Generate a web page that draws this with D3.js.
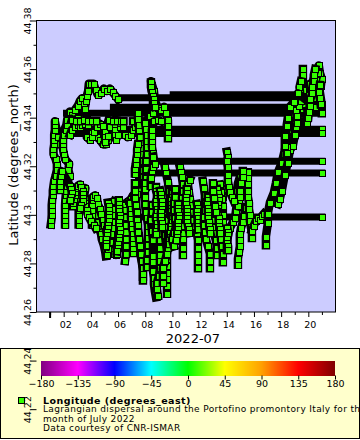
<!DOCTYPE html>
<html><head><meta charset="utf-8">
<script src="https://cdnjs.cloudflare.com/ajax/libs/d3/7.8.5/d3.min.js"></script>
<style>html,body{margin:0;padding:0;background:#fff;overflow:hidden}svg{display:block}text{font-family:"DejaVu Sans",sans-serif;fill:#000}</style>
</head><body><svg id="c" width="360" height="440"></svg>
<script>
const xMajor=[2,4,6,8,10,12,14,16,18,20];
const xMinor=[1,3,5,7,9,11,13,15,17,19,21];
const yMajor=[44.26,44.28,44.3,44.32,44.34,44.36,44.38];
const yMinor=[44.27,44.29,44.31,44.33,44.35,44.37];
const yBelow=[44.22,44.24];
const cbValues=[-180,-135,-90,-45,0,45,90,135,180];
const cbColors=["#800080","#ff00ff","#0000ff","#00ffff","#00ff00","#ffff00","#ffa000","#ff0000","#800000"];
const markerLon=9.2;
const legendLines=["Lagrangian dispersal around the Portofino promontory Italy for the","month of July 2022","Data courtesy of CNR-ISMAR"];
// stationary end sections of the tracks: latitude, first day, last day
const tailLat=[44.3494,44.3482,44.3443,44.3418,44.3352,44.3335,44.3221,44.3172,44.2991];
const tailStart=[9.8,6.0,5.4,1.95,3.0,2.5,8.8,8.4,7.0];
const tailEnd=[19.0,19.0,20.8,21,21,21,21,21,21];

const track01=[[1.05,44.296],[1.1,44.298],[1.12,44.3],[1.12,44.302],[1.12,44.304],[1.15,44.306],[1.2,44.308],[1.2,44.31],[1.25,44.312],[1.3,44.314],[1.4,44.316],[1.5,44.3185],[1.5,44.321],[1.4,44.323],[1.25,44.325],[1.25,44.327],[1.3,44.329],[1.3,44.331],[1.3,44.333],[1.35,44.335],[1.35,44.337],[1.35,44.3385],[1.6,44.332],[1.7,44.329],[1.85,44.331],[2.0,44.3345],[2.2,44.337],[2.3,44.34],[2.45,44.3425],[2.6,44.341],[2.8,44.343],[3.05,44.345],[3.2,44.347],[3.35,44.348],[3.5,44.3455],[3.55,44.3435],[3.65,44.347],[3.7,44.349],[3.8,44.351],[3.85,44.354],[4.0,44.354],[4.2,44.354],[4.35,44.3515],[4.5,44.3495],[4.75,44.35],[4.95,44.352],[5.2,44.351],[5.4,44.352],[5.6,44.3505],[5.8,44.349],[6.0,44.3475]];
const track02=[[2.1,44.296],[2.1,44.298],[2.1,44.3],[2.1,44.302],[2.1,44.304],[2.12,44.306],[2.15,44.308],[2.2,44.31],[2.25,44.312],[2.3,44.314],[2.45,44.316],[2.35,44.3185],[2.4,44.321],[2.1,44.323],[2.02,44.325],[1.95,44.327],[1.95,44.329],[1.95,44.331],[2.02,44.333],[2.17,44.335],[2.25,44.337],[2.25,44.339],[2.55,44.3395],[2.85,44.338],[3.05,44.34],[3.25,44.339],[3.5,44.34],[3.7,44.3395],[3.7,44.338],[3.7,44.336],[3.85,44.3335],[4.0,44.335],[4.15,44.334],[4.3,44.3325],[4.45,44.332],[4.65,44.331],[4.9,44.329],[5.1,44.329],[5.25,44.331],[5.4,44.3325],[5.65,44.335],[5.8,44.337],[5.85,44.339]];
const track03=[[2.46,44.333],[2.6,44.335],[2.85,44.336],[3.05,44.337],[3.2,44.336],[3.35,44.337],[3.55,44.3375],[3.8,44.337],[3.7,44.332],[3.9,44.331],[4.05,44.3335],[4.05,44.332],[4.2,44.334],[4.45,44.336],[4.65,44.3375],[4.9,44.3365],[5.05,44.334],[5.05,44.332],[5.05,44.33],[5.25,44.3325],[5.4,44.336],[5.55,44.3385],[5.8,44.339],[5.8,44.337],[5.8,44.335],[5.8,44.333],[5.85,44.331],[6.0,44.333],[6.15,44.336],[6.15,44.338],[6.35,44.336],[6.5,44.333],[6.7,44.332],[6.95,44.333],[7.1,44.335],[7.25,44.336],[7.4,44.338],[7.5,44.34],[7.5,44.342]];
const track04=[[3.1,44.296],[3.1,44.298],[3.1,44.3],[3.1,44.302],[3.12,44.304],[3.15,44.306],[3.2,44.308],[3.3,44.3095],[3.4,44.3105],[3.6,44.311],[3.5,44.3075],[3.65,44.3055],[3.8,44.3035],[3.95,44.3015],[4.3,44.3],[4.45,44.297],[4.6,44.2945],[4.75,44.292],[4.8,44.29],[4.95,44.2875],[5.05,44.285],[5.1,44.283]];
const track05=[[4.08,44.296],[4.08,44.298],[4.08,44.3],[4.08,44.302],[4.08,44.304],[4.15,44.306],[4.15,44.3075],[4.3,44.308],[4.45,44.3068],[4.5,44.3045],[4.67,44.3025],[4.75,44.3005],[4.9,44.298],[4.95,44.296],[5.1,44.294],[5.2,44.2915],[5.25,44.2895],[5.4,44.2875],[5.55,44.2855],[5.7,44.284],[5.85,44.2835],[5.92,44.286],[5.99,44.289],[5.99,44.292],[5.92,44.295],[5.85,44.298],[5.7,44.301],[5.55,44.304],[5.7,44.3055]];
const track06=[[5.55,44.3025],[5.55,44.3],[5.55,44.297],[5.55,44.2945],[5.5,44.292],[5.4,44.289],[5.26,44.286],[5.18,44.2835]];
const track07=[[5.9,44.284],[5.9,44.287],[5.99,44.29],[6.14,44.293],[6.2,44.296],[6.28,44.299],[6.28,44.302],[6.35,44.304],[6.73,44.3055],[6.95,44.3065],[7.1,44.308],[6.51,44.302],[6.51,44.299],[6.58,44.296],[6.58,44.293],[6.58,44.29],[6.58,44.287],[6.58,44.284],[6.51,44.281]];
const track08=[[7.83,44.2745],[7.83,44.277],[7.76,44.28],[7.68,44.2825],[7.68,44.2855],[7.61,44.2885],[7.54,44.2915],[7.46,44.2945],[7.46,44.2975],[7.39,44.3],[7.32,44.3025],[7.32,44.3055],[7.39,44.3085],[7.46,44.311],[7.54,44.314],[7.61,44.317],[7.68,44.32],[7.76,44.3225],[7.83,44.3255]];
const track09=[[7.83,44.3125],[7.83,44.3155],[7.83,44.3185],[7.83,44.322],[7.83,44.325],[7.68,44.3275],[7.61,44.33],[7.61,44.332],[7.54,44.335],[7.54,44.337],[7.46,44.3395],[7.46,44.342]];
const track10=[[8.05,44.3115],[8.05,44.315],[8.05,44.319],[8.05,44.322],[8.13,44.325],[8.13,44.328],[8.13,44.3305],[8.13,44.333],[8.05,44.3355],[7.98,44.338],[8.35,44.3405],[8.57,44.342],[8.57,44.345],[8.57,44.348],[8.49,44.351],[8.49,44.3535],[8.42,44.355],[8.64,44.351],[8.71,44.347],[8.93,44.344],[9.15,44.343],[9.38,44.3445],[9.52,44.342],[9.67,44.339],[9.67,44.3365],[9.67,44.3335],[9.67,44.3315]];
const track11=[[8.57,44.3205],[8.57,44.3225],[8.57,44.3255],[8.49,44.328],[8.49,44.3305],[8.49,44.3325],[8.49,44.335],[8.64,44.3385],[8.93,44.339],[9.15,44.3385]];
const track12=[[7.24,44.313],[7.24,44.31],[7.24,44.307],[7.32,44.304],[7.39,44.301],[7.39,44.298],[7.46,44.296],[7.46,44.293],[7.54,44.29],[7.61,44.287],[7.68,44.284],[7.76,44.281],[7.83,44.278],[7.83,44.2755],[7.83,44.273]];
const track13=[[8.13,44.2785],[8.13,44.2815],[8.2,44.2845],[8.2,44.2875],[8.2,44.2905],[8.2,44.293],[8.2,44.2955],[8.13,44.2985],[8.05,44.301],[7.98,44.3045],[7.98,44.3075],[7.98,44.3105],[7.98,44.313]];
const track14=[[8.49,44.304],[8.49,44.301],[8.42,44.298],[8.49,44.2935],[8.57,44.2895],[8.57,44.283],[8.57,44.2805],[8.57,44.277],[8.64,44.274],[8.64,44.2715],[8.71,44.2685],[8.79,44.266]];
const track15=[[8.93,44.2665],[8.86,44.2695],[8.86,44.272],[9.01,44.275],[9.08,44.278],[9.08,44.281],[9.08,44.2835],[9.08,44.2865],[9.08,44.2895],[9.15,44.2925]];
const track16=[[9.38,44.3045],[9.38,44.3015],[9.38,44.298],[9.38,44.295],[9.45,44.2915],[9.52,44.2885],[9.6,44.285],[9.6,44.282],[9.6,44.279],[9.6,44.276],[9.6,44.2735],[9.6,44.2705],[9.6,44.2675]];
const track17=[[9.3,44.272],[9.3,44.275],[9.3,44.278],[9.45,44.281],[9.6,44.284],[9.67,44.2865],[9.67,44.2895],[9.67,44.292],[9.67,44.295],[9.67,44.298],[9.82,44.3],[9.82,44.306],[9.74,44.31],[9.67,44.3135],[9.52,44.3175],[9.45,44.3195]];
const track18=[[10.18,44.3105],[10.18,44.3075],[10.11,44.305],[10.11,44.302],[10.18,44.2985],[10.26,44.295],[10.11,44.2925],[9.96,44.29],[10.11,44.287]];
const track19=[[10.55,44.3195],[10.63,44.3175],[10.7,44.3155],[10.77,44.3125],[10.77,44.31],[10.7,44.307],[10.77,44.304],[10.77,44.301],[10.77,44.2985],[10.77,44.2955],[10.77,44.2925],[10.77,44.29],[10.77,44.2865],[10.77,44.2835]];
const track20=[[11.88,44.278],[11.88,44.281],[11.88,44.2835],[11.88,44.2865],[11.88,44.2895],[11.8,44.2925],[11.65,44.2955],[11.51,44.298],[11.43,44.301],[11.36,44.304],[11.29,44.3065],[11.21,44.3095],[11.14,44.3125],[11.29,44.3145]];
const track21=[[12.24,44.314],[12.32,44.311],[12.39,44.308],[12.39,44.305],[12.39,44.302],[12.32,44.299],[12.32,44.296],[12.39,44.293],[12.46,44.29],[12.61,44.287],[12.76,44.284],[12.76,44.281],[12.76,44.278]];
const track22=[[13.27,44.2835],[13.27,44.2865],[13.2,44.2895],[13.05,44.2925],[12.9,44.295],[12.9,44.298],[12.98,44.301],[13.2,44.3035],[13.49,44.3055],[13.71,44.3075],[13.86,44.3105]];
const track23=[[13.49,44.3125],[13.57,44.3095],[13.64,44.3065],[13.71,44.3035],[13.71,44.3],[13.71,44.297],[13.64,44.2935],[13.57,44.29],[13.64,44.287],[13.71,44.284],[13.71,44.2805]];
const track24=[[14.01,44.2855],[14.01,44.2885],[14.08,44.2915],[14.23,44.2945],[14.45,44.297],[14.6,44.2985],[14.67,44.3015],[14.74,44.3045],[14.74,44.307],[14.74,44.31],[14.82,44.313],[14.96,44.3155],[15.18,44.317]];
const track25=[[14.82,44.2795],[14.82,44.282],[14.89,44.2845],[14.96,44.287],[14.96,44.2895],[14.96,44.292],[15.04,44.2945],[15.18,44.297],[15.26,44.2995],[15.4,44.303]];
const track26=[[15.55,44.3175],[15.55,44.315],[15.55,44.3125],[15.55,44.31],[15.55,44.3075],[15.63,44.305],[15.63,44.3025],[15.7,44.3],[15.7,44.2975],[15.77,44.295],[15.85,44.2925],[15.85,44.2905]];
const track27=[[14.96,44.313],[14.96,44.31],[14.96,44.3075],[14.89,44.305],[14.82,44.3035]];
const track28=[[15.85,44.2935],[15.99,44.2955],[16.14,44.2975],[16.29,44.2985],[16.43,44.298],[16.58,44.2995],[16.73,44.3005]];
const track29=[[14.01,44.326],[14.08,44.324],[14.01,44.322],[14.08,44.3195],[14.08,44.3165],[14.08,44.314],[14.16,44.3115],[14.23,44.3095],[14.38,44.3075],[14.53,44.3055]];
const track30=[[15.18,44.318],[15.18,44.3155],[15.04,44.313]];
const track31=[[12.98,44.313],[12.98,44.31],[13.05,44.307],[13.12,44.3035],[13.2,44.301]];
const track32=[[16.88,44.2875],[16.88,44.291],[17.02,44.2965],[17.02,44.3005],[17.17,44.305],[17.46,44.309],[17.61,44.313],[17.76,44.3175],[18.05,44.3215],[18.2,44.325],[18.35,44.3285],[18.49,44.3315],[18.64,44.335],[18.79,44.339],[18.94,44.342],[19.16,44.345],[19.23,44.3485],[19.45,44.351],[19.6,44.354],[19.6,44.3575],[19.6,44.36]];
const track33=[[17.76,44.3045],[17.9,44.3065],[18.05,44.31],[18.27,44.3165],[18.49,44.3215],[18.64,44.3265],[18.86,44.3285],[19.01,44.333],[19.08,44.336],[19.38,44.3395],[19.6,44.3435],[19.74,44.3465],[19.96,44.3495],[20.26,44.3535],[20.48,44.3575],[20.77,44.3615],[20.85,44.3585],[20.99,44.356],[20.92,44.353],[20.55,44.3485],[20.85,44.3505],[20.99,44.3455],[20.99,44.3418]];
const track34=[[19.01,44.333],[19.08,44.336],[19.01,44.339],[19.89,44.338],[19.89,44.3405],[19.96,44.3435],[19.6,44.3455],[19.6,44.3485],[19.6,44.3515],[20.11,44.354],[20.4,44.3535],[20.55,44.3555],[20.7,44.3585]];
const track35=[[18.27,44.3285],[18.27,44.3325],[18.4,44.3365],[18.49,44.34],[18.64,44.3445],[18.94,44.3465],[19.23,44.35],[20.48,44.3445],[20.48,44.348],[20.55,44.351]];
const track36=[[5.26,44.305],[5.3,44.3035],[5.33,44.302],[5.33,44.3005],[5.3,44.299],[5.3,44.2975],[5.26,44.296],[5.26,44.2945],[5.2,44.293],[5.2,44.2915],[5.15,44.29],[5.15,44.2885],[5.11,44.287]];
const track37=[[6.05,44.306],[6.05,44.3045],[6.1,44.303],[6.1,44.3015],[6.14,44.3],[6.14,44.2985],[6.1,44.297],[6.1,44.2955],[6.14,44.294],[6.14,44.2925],[6.05,44.291],[6.05,44.2895],[6.0,44.288],[6.0,44.2865],[5.95,44.285]];
const track38=[[7.1,44.2843],[7.1,44.2864],[7.1,44.2884],[7.1,44.2905],[7.1,44.2925],[7.02,44.2946],[7.02,44.2967],[6.95,44.2987],[6.95,44.3008],[6.95,44.3028],[6.88,44.3049]];
const track39=[[3.55,44.3065],[3.55,44.305],[3.6,44.3035],[3.7,44.302],[3.75,44.3005],[3.85,44.299],[4.0,44.2975],[4.2,44.296],[4.35,44.2945]];
const track40=[[2.7,44.3035],[2.7,44.305],[2.75,44.3065],[2.8,44.308],[2.85,44.3095],[2.95,44.311],[3.05,44.312],[3.2,44.3125],[3.3,44.3115],[3.4,44.31],[3.45,44.3085],[3.45,44.307],[3.4,44.3055],[3.3,44.304],[3.2,44.303]];
const track41=[[1.73,44.3102],[1.73,44.312],[1.75,44.314],[1.8,44.316],[1.85,44.318],[2.46,44.312],[2.55,44.3105],[2.6,44.309],[2.55,44.3075],[2.5,44.306]];
const track42=[[2.6,44.339],[2.9,44.3385],[3.2,44.3385],[3.5,44.339],[3.8,44.3385],[4.1,44.3385],[4.4,44.3385]];
const track43=[[5.3,44.339],[5.6,44.3385],[5.9,44.3385],[6.2,44.3385],[6.4,44.3385]];
const track44=[[7.1,44.3385],[7.4,44.3385],[7.7,44.3385]];
const track45=[[8.42,44.3545],[8.42,44.3525],[8.49,44.3505],[8.57,44.349],[8.64,44.3475],[8.64,44.346],[8.71,44.3445]];
const track46=[[7.24,44.317],[7.24,44.319],[7.3,44.321],[7.35,44.323],[7.4,44.325],[7.4,44.327],[7.45,44.329]];
const track47=[[8.4,44.312],[8.4,44.315],[8.5,44.318],[8.6,44.3195],[8.7,44.321],[8.6,44.324]];
const track48=[[8.79,44.3115],[8.79,44.31],[8.86,44.3085],[8.86,44.307],[8.79,44.3055],[8.79,44.304],[8.86,44.3025],[8.86,44.301],[8.79,44.2995],[8.79,44.298],[8.86,44.2965],[8.86,44.295],[8.79,44.2935],[8.79,44.292]];
const track49=[[9.1,44.31],[9.15,44.3085],[9.15,44.307],[9.2,44.3055],[9.2,44.304],[9.2,44.3025],[9.15,44.301],[9.15,44.2995],[9.15,44.298],[9.2,44.2965],[9.2,44.295]];
const track50=[[9.96,44.309],[9.96,44.3075],[9.9,44.306],[9.9,44.3045],[9.9,44.303],[9.9,44.3015],[9.96,44.3],[9.96,44.2985],[9.96,44.297],[9.9,44.2955],[9.9,44.294],[9.8,44.2925],[9.8,44.291],[9.75,44.2895],[9.75,44.288]];
const track51=[[10.4,44.3045],[10.4,44.303],[10.4,44.3015],[10.45,44.3],[10.45,44.2985],[10.4,44.297],[10.4,44.2955],[10.4,44.294],[10.35,44.2925],[10.35,44.291],[10.3,44.2895]];
const track52=[[11.05,44.3105],[11.05,44.309],[11.0,44.3075],[11.0,44.306],[11.0,44.3045],[11.05,44.303],[11.05,44.3015],[11.1,44.3],[11.1,44.2985],[11.1,44.297],[11.15,44.2955],[11.2,44.294],[11.25,44.2925]];
const track53=[[11.8,44.3045],[11.85,44.303],[11.8,44.3015],[11.8,44.3],[11.85,44.2985],[11.85,44.297],[11.85,44.2955],[11.9,44.294]];
const track54=[[12.6,44.3075],[12.6,44.306],[12.55,44.3045],[12.6,44.303],[12.6,44.3015],[12.65,44.3],[12.65,44.2985],[12.7,44.297],[12.7,44.2955],[12.75,44.294],[12.8,44.2925]];
const track55=[[13.3,44.3105],[13.35,44.309],[13.4,44.3075],[13.4,44.306],[13.35,44.3045],[13.35,44.303],[13.3,44.3015],[13.35,44.3],[13.4,44.2985],[13.4,44.297],[13.45,44.2955],[13.5,44.294],[13.5,44.2925]];
const track56=[[14.05,44.2945],[14.1,44.293],[14.1,44.2915],[14.05,44.29],[14.05,44.2885],[14.1,44.287],[14.1,44.2855]];
const track57=[[18.4,44.3255],[18.4,44.328],[18.35,44.331],[18.35,44.334],[18.5,44.3365],[18.6,44.339],[18.75,44.3415],[18.9,44.344]];
const track58=[[19.2,44.338],[19.15,44.3405],[19.1,44.343],[19.3,44.345],[19.45,44.347],[19.4,44.35],[19.35,44.3525],[19.45,44.355]];
const track59=[[20.0,44.34],[20.05,44.3425],[20.1,44.345],[20.15,44.3475],[20.3,44.35],[20.3,44.3525],[20.4,44.355],[20.4,44.3575],[20.5,44.36]];
const track60=[[20.85,44.3535],[20.8,44.3505],[20.85,44.348],[20.9,44.3455]];
const allTracks=[track01,track02,track03,track42,track43,track44,track04,track05,track06,track07,track36,track37,track38,track39,track40,track41,track08,track09,track10,track11,track12,track13,track45,track46,track47,track14,track15,track16,track17,track48,track49,track50,track18,track19,track51,track20,track52,track53,track21,track22,track54,track23,track55,track24,track56,track25,track26,track27,track28,track29,track30,track31,track32,track33,track57,track34,track58,track35,track59,track60];

const svg=d3.select("#c");
const L=36.5,R=335.5,T=20.5,B=312;
const x=d3.scaleLinear().domain([0,22]).range([L,R]);
const y=d3.scaleLinear().domain([44.26,44.38]).range([B,T]);
const cb=d3.scaleLinear().domain([-180,180]).range([41,335]);
const col=d3.scaleLinear().domain(cbValues).range(cbColors);
const green=col(markerLon);

svg.append("rect").attr("x",L).attr("y",T).attr("width",R-L).attr("height",B-T).attr("fill","#ccccff");

const px=v=>Math.round(v)+0.5;
function marker(g,px0,py0){
  g.append("rect").attr("x",px0-3).attr("y",py0-3).attr("width",6).attr("height",6)
   .attr("fill",green).attr("stroke","#000").attr("stroke-width",1).attr("shape-rendering","crispEdges");
}
const line=d3.line().x(d=>x(d[0])).y(d=>y(d[1]));
const plot=svg.append("g");
plot.selectAll("line.t").data(tailLat).join("line")
 .attr("x1",(d,i)=>x(tailStart[i])).attr("x2",(d,i)=>x(tailEnd[i])+3.5)
 .attr("y1",d=>y(d)).attr("y2",d=>y(d)).attr("stroke","#000").attr("stroke-width",7);
allTracks.forEach(t=>{
  plot.append("path").attr("d",line(t)).attr("fill","none").attr("stroke","#000").attr("stroke-width",8.5).attr("stroke-linejoin","round").attr("stroke-linecap","square");
  t.forEach(d=>marker(plot,px(x(d[0])),px(y(d[1]))));
});
tailLat.forEach((d,i)=>{ if(tailEnd[i]===21) marker(plot,px(x(21)),px(y(d))); });

// frame
svg.append("rect").attr("x",L).attr("y",T).attr("width",R-L).attr("height",B-T).attr("fill","none").attr("stroke","#000").attr("stroke-width",1);

// legend
const leg=svg.append("g");
leg.append("rect").attr("x",0.5).attr("y",348.5).attr("width",359).attr("height",90).attr("fill","#ffffcc").attr("stroke","#000");
d3.range(41,335).forEach(p=>{
  leg.append("rect").attr("x",p).attr("y",361).attr("width",1).attr("height",15).attr("fill",col(cb.invert(p+0.5)));
});
const cbAxis=d3.axisBottom(cb).tickValues(cbValues).tickSize(4).tickPadding(1).tickFormat(d3.format("d"));
const cbG=leg.append("g").attr("transform","translate(0,375.5)").call(cbAxis);
cbG.select(".domain").remove();
cbG.selectAll("text").attr("font-size",9.5).attr("font-family","DejaVu Sans").style("fill","#000");
marker(leg,21.5,400.5);
leg.append("text").attr("x",43).attr("y",403.5).attr("font-size",9.5).attr("font-weight","bold").attr("letter-spacing",0.45).text("Longitude (degrees_east)");
leg.selectAll("text.l").data(legendLines).join("text").attr("class","l").attr("x",43).attr("y",(d,i)=>412+i*9.5).attr("font-size",9).attr("letter-spacing",0.35).text(d=>d);

// axes
const yAll=d3.scaleLinear().domain([44.22,44.38]).range([y(44.22),T]);
const ya=d3.axisLeft(yAll).tickValues(yMajor.concat(yBelow)).tickSize(6).tickPadding(0).tickFormat(d=>d3.format(".2f")(d).replace(/0$/,""));
const yg=svg.append("g").attr("transform",`translate(${L},0)`).call(ya);
yg.select(".domain").remove();
yg.selectAll("text").attr("font-size",9.5).attr("text-anchor","middle").attr("dy",0).attr("x",0)
  .attr("transform","translate(-6,0) rotate(-90)").style("fill","#000");
const yMin=d3.axisLeft(yAll).tickValues(yMinor).tickSize(3).tickFormat("");
const ym=svg.append("g").attr("transform",`translate(${L},0)`).call(yMin);ym.select(".domain").remove();

const xa=d3.axisBottom(x).tickValues(xMajor).tickSize(5).tickPadding(4).tickFormat(d=>d3.format("02")(d));
const xg=svg.append("g").attr("transform",`translate(0,${B})`).call(xa);
xg.select(".domain").remove();
xg.selectAll("text").attr("font-size",9.5).attr("dx",1.5).style("fill","#000");
const xMin=d3.axisBottom(x).tickValues(xMinor).tickSize(3).tickFormat("");
const xm=svg.append("g").attr("transform",`translate(0,${B})`).call(xMin);xm.select(".domain").remove();
svg.append("line").attr("x1",x(1)).attr("x2",x(1)).attr("y1",B).attr("y2",B+6).attr("stroke","#000").attr("stroke-width",2);

svg.append("text").attr("x",193).attr("y",343).attr("text-anchor","middle").attr("font-size",13).text("2022-07");
svg.append("text").attr("transform","translate(18,165) rotate(-90)").attr("text-anchor","middle").attr("font-size",13).text("Latitude (degrees_north)");
</script></body></html>
